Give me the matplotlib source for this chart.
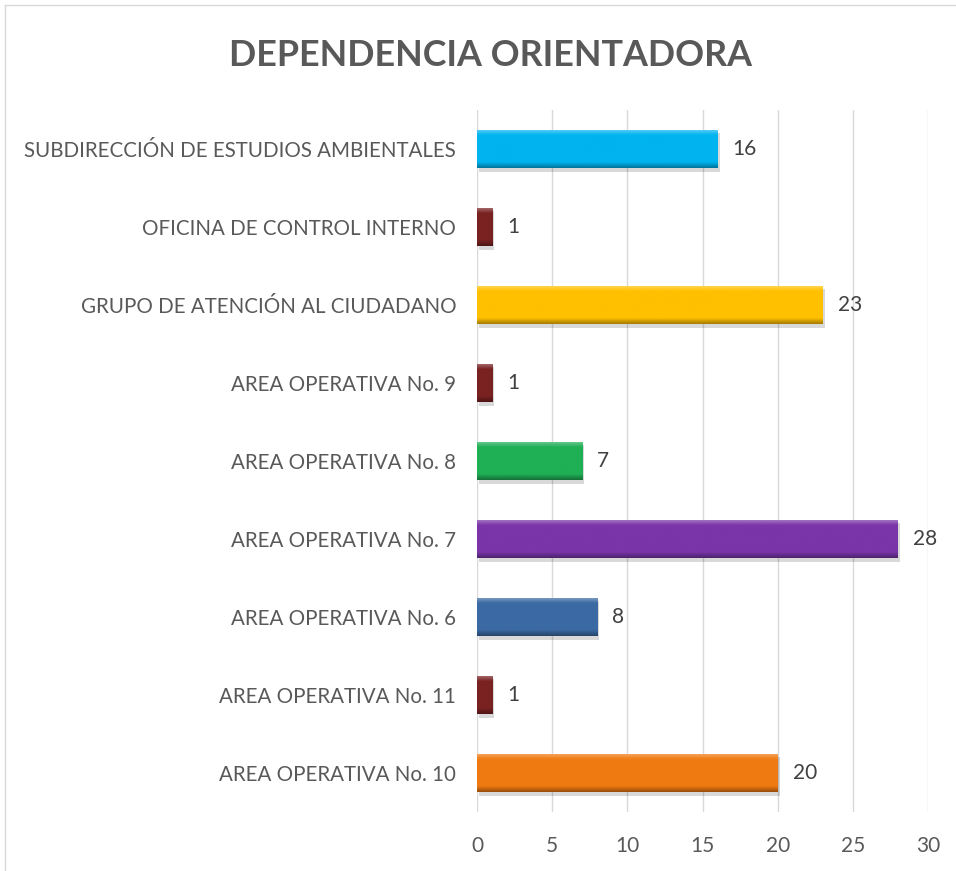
import matplotlib
matplotlib.use("Agg")
import matplotlib.pyplot as plt
import matplotlib.patheffects as pe
import numpy as np
from matplotlib.colors import to_rgb
from matplotlib.lines import Line2D

categories = [
    "SUBDIRECCIÓN DE ESTUDIOS AMBIENTALES",
    "OFICINA DE CONTROL INTERNO",
    "GRUPO DE ATENCIÓN AL CIUDADANO",
    "AREA OPERATIVA No. 9",
    "AREA OPERATIVA No. 8",
    "AREA OPERATIVA No. 7",
    "AREA OPERATIVA No. 6",
    "AREA OPERATIVA No. 11",
    "AREA OPERATIVA No. 10",
]
values = [16, 1, 23, 1, 7, 28, 8, 1, 20]
colors = ["#00B4F0", "#7A2222", "#FFC000", "#7A2222", "#1FAF55", "#7A35A8", "#3B6AA3", "#7A2222", "#F07A12"]
xticks = [0, 5, 10, 15, 20, 25, 30]
title = "DEPENDENCIA ORIENTADORA"

plt.rcParams['font.family'] = ['Lato', 'DejaVu Sans']

fig = plt.figure(figsize=(9.56, 8.71), dpi=100)
ax = fig.add_axes([477/956, 1-812/871, (928-477)/956, (812-110)/871])

n = len(categories)
ypos = np.arange(n)
bars = ax.barh(ypos, values, height=0.49, color=colors, zorder=3,
               path_effects=[pe.SimplePatchShadow(offset=(1.5, -2.5), shadow_rgbFace='#000000', alpha=0.15), pe.Normal()])

# bevel shading via gradient overlay
for b, c in zip(bars, colors):
    x0, y0 = b.get_x(), b.get_y()
    w, h = b.get_width(), b.get_height()
    rgb = np.array(to_rgb(c))
    grad = np.linspace(0, 1, 50)
    img = np.zeros((50, 1, 4))
    for i, t in enumerate(grad):
        if t < 0.15:
            col = rgb + (1 - rgb) * 0.35 * (1 - t / 0.15)
        elif t > 0.85:
            col = rgb * (1 - 0.35 * (t - 0.85) / 0.15)
        else:
            col = rgb
        img[i, 0, :3] = np.clip(col, 0, 1)
        img[i, 0, 3] = 1
    im = ax.imshow(img, extent=(x0, x0 + w, y0 + h, y0), aspect='auto', zorder=4, interpolation='bilinear')
    im.set_clip_path(b)
    ax.text(w + 1.0, y0 + h / 2, str(int(w)), va='center', ha='left', fontsize=15, color='#404040', zorder=5)

ax.set_ylim(n - 0.5, -0.5)
ax.set_xlim(0, 30)
ax.set_xticks(xticks)
ax.set_xticklabels([str(t) for t in xticks], fontsize=15, color='#595959')
ax.set_yticks(ypos)
ax.set_yticklabels(categories, fontsize=14.8, color='#595959')
ax.tick_params(axis='both', length=0)
ax.tick_params(axis='x', pad=17)
ax.tick_params(axis='y', pad=15)
ax.xaxis.grid(True, color='#D9D9D9', linewidth=1, zorder=0)
ax.set_axisbelow(True)
for s in ax.spines.values():
    s.set_visible(False)
ax.set_facecolor('none')

fig.text(491/956, 1-55/871, title, ha='center', va='center', fontsize=25.8, fontweight='bold', color='#595959')

# outer chart border
fig.add_artist(Line2D([5/956, 5/956], [0, 1-5/871], transform=fig.transFigure, color='#D9D9D9', lw=1))
fig.add_artist(Line2D([5/956, 1], [1-5/871, 1-5/871], transform=fig.transFigure, color='#D9D9D9', lw=1))

fig.savefig("out.png", dpi=100)
